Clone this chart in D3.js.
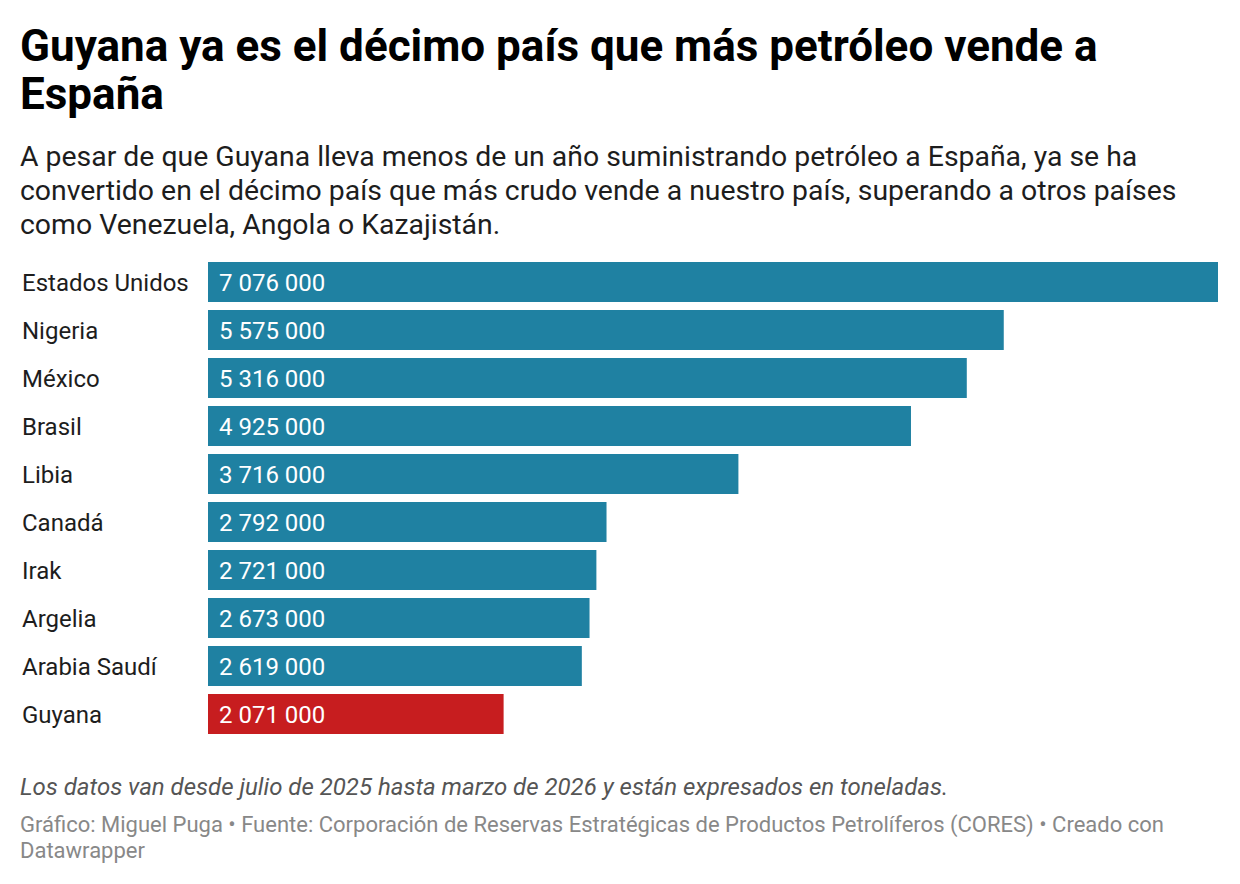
<!DOCTYPE html>
<html><head><meta charset="utf-8">
<script src="https://cdn.jsdelivr.net/npm/d3@7"></script>
<style>
body{margin:0;background:#fff;font-family:Roboto,sans-serif;}
svg{display:block}
</style></head><body>
<svg id="c" width="1240" height="884"></svg>
<script>
const countries = ["Estados Unidos","Nigeria","México","Brasil","Libia","Canadá","Irak","Argelia","Arabia Saudí","Guyana"];
const values = [7076000,5575000,5316000,4925000,3716000,2792000,2721000,2673000,2619000,2071000];
const highlight = ["Guyana"];
const titleLines = ["Guyana ya es el décimo país que más petróleo vende a","España"];
const subtitleLines = ["A pesar de que Guyana lleva menos de un año suministrando petróleo a España, ya se ha","convertido en el décimo país que más crudo vende a nuestro país, superando a otros países","como Venezuela, Angola o Kazajistán."];
const note = "Los datos van desde julio de 2025 hasta marzo de 2026 y están expresados en toneladas.";
const creditLines = ["Gráfico: Miguel Puga • Fuente: Corporación de Reservas Estratégicas de Productos Petrolíferos (CORES) • Creado con","Datawrapper"];

const svg = d3.select("#c");
const fmt = v => d3.format(",")(v).replace(/,/g, " ");

svg.append("g").selectAll("text").data(titleLines).join("text")
  .attr("x",20).attr("y",(d,i)=>61+i*48)
  .style("font-size","44px").style("font-weight","700").attr("fill","#000").text(d=>d);
svg.append("g").selectAll("text").data(subtitleLines).join("text")
  .attr("x",20).attr("y",(d,i)=>166+i*34)
  .style("font-size","28.4px").attr("fill","#1d1d1d").text(d=>d);

const x = d3.scaleLinear().domain([0,d3.max(values)]).range([208,1218]);
const y = d3.scaleBand().domain(countries).range([262,734]).paddingInner(8/48).paddingOuter(0).align(0);
const data = countries.map((c,i)=>({c,v:values[i]}));

const g = svg.append("g");
g.selectAll("rect").data(data).join("rect")
  .attr("x",x(0)).attr("y",d=>y(d.c)).attr("width",d=>x(d.v)-x(0)).attr("height",y.bandwidth())
  .attr("fill",d=>highlight.includes(d.c)?"#c71d1f":"#1f81a2");
g.selectAll("text.lab").data(data).join("text").attr("class","lab")
  .attr("x",22).attr("y",d=>y(d.c)+y.bandwidth()/2).attr("dy","0.36em")
  .style("font-size","24px").attr("fill","#1d1d1d").text(d=>d.c);
g.selectAll("text.val").data(data).join("text").attr("class","val")
  .attr("x",x(0)+11).attr("y",d=>y(d.c)+y.bandwidth()/2).attr("dy","0.36em")
  .style("font-size","24px").attr("fill","#fff").text(d=>fmt(d.v));

svg.append("text").attr("x",20).attr("y",795).style("font-size","24px").style("font-style","italic")
  .attr("fill","#555").text(note);
svg.append("g").selectAll("text").data(creditLines).join("text")
  .attr("x",20).attr("y",(d,i)=>832+i*26).style("font-size","22px").attr("fill","#888").text(d=>d);
</script></body></html>
